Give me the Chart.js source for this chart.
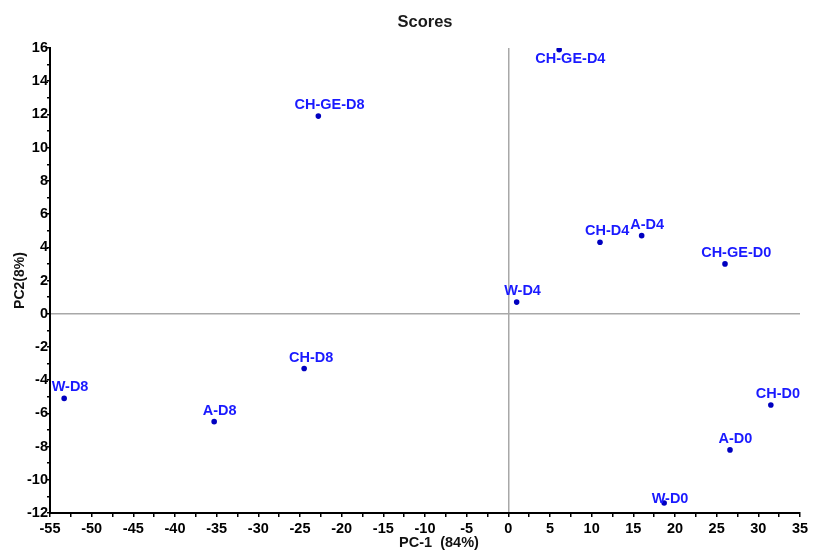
<!DOCTYPE html>
<html>
<head>
<meta charset="utf-8">
<script src="https://cdn.jsdelivr.net/npm/chart.js@4.4.1/dist/chart.umd.min.js"></script>
<style>
  html, body { margin: 0; padding: 0; background: #ffffff; }
  #wrap { width: 813px; height: 550px; }
</style>
</head>
<body>
<div id="wrap"><canvas id="c" width="813" height="550"></canvas></div>
<script>
// ---- data ----
const sampleNames = ["CH-GE-D4", "CH-GE-D8", "CH-GE-D0", "CH-D4", "A-D4", "W-D4",
                     "CH-D8", "W-D8", "A-D8", "CH-D0", "A-D0", "W-D0"];
const pc1Scores = [6.1, -22.8, 26.0, 11.0, 16.0, 1.0, -24.5, -53.3, -35.3, 31.5, 26.6, 18.7];
const pc2Scores = [15.9, 11.9, 3.0, 4.3, 4.7, 0.7, -3.3, -5.1, -6.5, -5.5, -8.2, -11.4];
const xTickStep = 5;   // labelled x ticks (-55 .. 35)
const yTickStep = 2;   // labelled y ticks (-12 .. 16)
const chartTitle = "Scores";
const xTitle = "PC-1  (84%)";
const yTitle = "PC2(8%)";

const FONT = "'Liberation Sans', Arial, sans-serif";

const points = sampleNames.map((n, i) => ({ x: pc1Scores[i], y: pc2Scores[i], name: n }));

const labelPlugin = {
  id: 'pointLabels',
  afterDatasetsDraw(chart, args, opts) {
    const ctx = chart.ctx;
    const meta = chart.getDatasetMeta(0);
    ctx.save();
    ctx.font = "bold 14.5px " + FONT;
    ctx.fillStyle = opts.color;
    ctx.textAlign = 'left';
    ctx.textBaseline = 'alphabetic';
    meta.data.forEach((el, i) => {
      const name = points[i].name;
      const w = ctx.measureText(name).width;
      const dy = (opts.dyOverride && opts.dyOverride[name] !== undefined) ? opts.dyOverride[name] : opts.dy;
      ctx.fillText(name, el.x - opts.dxFactor * w, el.y + dy);
    });
    ctx.restore();
  }
};

const xTitlePlugin = {
  id: 'xAxisTitle',
  afterDraw(chart, args, opts) {
    const ctx = chart.ctx;
    const a = chart.chartArea;
    ctx.save();
    ctx.font = "bold 14.5px " + FONT;
    ctx.fillStyle = opts.color;
    ctx.textAlign = 'center';
    ctx.textBaseline = 'middle';
    ctx.fillText(opts.text, (a.left + a.right) / 2 + opts.shift, chart.height - opts.bottomGap);
    ctx.restore();
  }
};

new Chart(document.getElementById('c'), {
  type: 'scatter',
  data: {
    datasets: [{
      data: points,
      pointRadius: 2.8,
      pointHoverRadius: 2.8,
      pointBackgroundColor: '#0000c0',
      pointBorderColor: '#0000c0',
      pointBorderWidth: 0
    }]
  },
  options: {
    responsive: false,
    animation: false,
    layout: { padding: { left: 0, right: 13, top: 0, bottom: 0 } },
    plugins: {
      legend: { display: false },
      tooltip: { enabled: false },
      title: {
        display: true,
        fullSize: false,
        text: chartTitle,
        color: '#1a1a1a',
        font: { family: FONT, size: 16.5, weight: 'bold', lineHeight: 1.2 },
        padding: { top: 12.5, bottom: 15.7 }
      },
      pointLabels: {
        color: '#1a1aff',
        dxFactor: 0.34,
        dy: -7,
        dyOverride: { "CH-GE-D4": 13, "W-D0": 0 }
      },
      xAxisTitle: { text: xTitle, color: '#111111', shift: 14, bottomGap: 7 }
    },
    scales: {
      x: {
        type: 'linear',
        min: -55, max: 35,
        afterFit(s) { s.height = 37; },
        border: { display: true, color: '#000000', width: 2 },
        grid: {
          drawOnChartArea: true,
          drawTicks: true,
          tickLength: 4,
          tickColor: '#000000',
          lineWidth: 1.5,
          color: (c) => (c.tick && c.tick.value === 0) ? '#a8a8a8' : 'rgba(0,0,0,0)'
        },
        ticks: {
          stepSize: xTickStep / 2,
          autoSkip: false,
          maxRotation: 0,
          padding: 3,
          color: '#000000',
          font: { family: FONT, size: 14.5, weight: 'bold' },
          callback: (v) => (Math.abs(v % xTickStep) < 1e-9 ? String(v) : '')
        },
        title: { display: false }
      },
      y: {
        type: 'linear',
        min: -12, max: 16,
        afterFit(s) { s.width = 50; },
        border: { display: true, color: '#000000', width: 2 },
        grid: {
          drawOnChartArea: true,
          drawTicks: true,
          tickLength: 3,
          tickColor: '#000000',
          lineWidth: 1.5,
          color: (c) => (c.tick && c.tick.value === 0) ? '#a8a8a8' : 'rgba(0,0,0,0)'
        },
        ticks: {
          stepSize: yTickStep / 2,
          autoSkip: false,
          padding: -1,
          color: '#000000',
          font: { family: FONT, size: 14.5, weight: 'bold' },
          callback: (v) => (Math.abs(v % yTickStep) < 1e-9 ? String(v) : '')
        },
        title: {
          display: true,
          text: yTitle,
          color: '#111111',
          font: { family: FONT, size: 14, weight: 'bold', lineHeight: 1.2 },
          padding: { top: 11.6, bottom: 0 }
        }
      }
    }
  },
  plugins: [labelPlugin, xTitlePlugin]
});
</script>
</body>
</html>
